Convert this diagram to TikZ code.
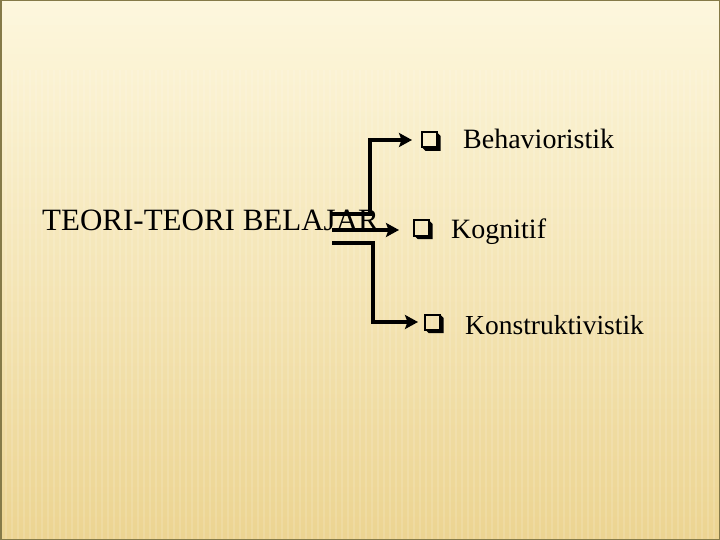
\documentclass[tikz,border=0pt]{standalone}
\usepackage{fontspec}
\setmainfont{Liberation Serif}
\usetikzlibrary{arrows.meta}
\definecolor{bgtop}{HTML}{FDF7DD}
\definecolor{bgmid}{HTML}{F8E8B4}
\definecolor{bgbot}{HTML}{ECD491}
\definecolor{frame}{HTML}{857A48}
\tikzset{
  conn/.style={line width=4.5pt, draw=black, line join=miter},
  arr/.style={conn, -{Stealth[length=13pt,width=14pt,inset=2.5pt]}},
  boxmark/.style={draw=black, line width=2pt, minimum width=15pt, minimum height=15pt, inner sep=0pt, outer sep=0pt},
  shadowmark/.style={fill=black},
  stripe/.style={draw=white, line width=2.5pt, opacity=0.13},
  label/.style={anchor=base west, inner sep=0pt, font=\fontsize{28pt}{30pt}\selectfont},
  title/.style={anchor=base west, inner sep=0pt, font=\fontsize{31pt}{33pt}\selectfont}
}
\begin{document}
\begin{tikzpicture}[x=1pt,y=-1pt]
\useasboundingbox (0,0) rectangle (720,540);
\shade[top color=bgtop, middle color=bgmid, bottom color=bgbot] (0,0) rectangle (720,540);
\fill[bgtop, opacity=0.6] (0,0) rectangle (720,25);
\foreach \x in {0,6,...,720}{
  \draw[stripe] (\x,70) -- (\x,540);
}
\draw[frame, line width=1.5pt] (0.75,0.75) rectangle (719.25,539.25);

\node[title] (title) at (42,230) {TEORI-TEORI BELAJAR};

\node[boxmark] (b1) at (429.5,140) {};
\node[boxmark] (b2) at (421.5,228) {};
\node[boxmark] (b3) at (432.5,322) {};
\foreach \b in {b1,b2,b3}{
  \fill[shadowmark] (\b.south west) -- ++(3.5,3.5) -- ([shift={(3.5,3.5)}]\b.south east) -- ([shift={(3.5,3.5)}]\b.north east) -- (\b.north east) -- (\b.south east) -- cycle;
}

\node[label] (t1) at (463,149) {Behavioristik};
\node[label] (t2) at (451,238) {Kognitif};
\node[label, font=\fontsize{27.5pt}{30pt}\selectfont] (t3) at (465,334) {Konstruktivistik};

\coordinate (s1) at (332,214);
\coordinate (s2) at (332,230);
\coordinate (s3) at (332,243);

\draw[arr] (s1) -- ++(38,0) |- ([xshift=-10pt]b1.west);
\draw[arr] (s2) -- ([xshift=-15pt]s2 -| b2.west);
\draw[arr] (s3) -- ++(41,0) |- ([xshift=-7pt]b3.west);
\end{tikzpicture}
\end{document}
